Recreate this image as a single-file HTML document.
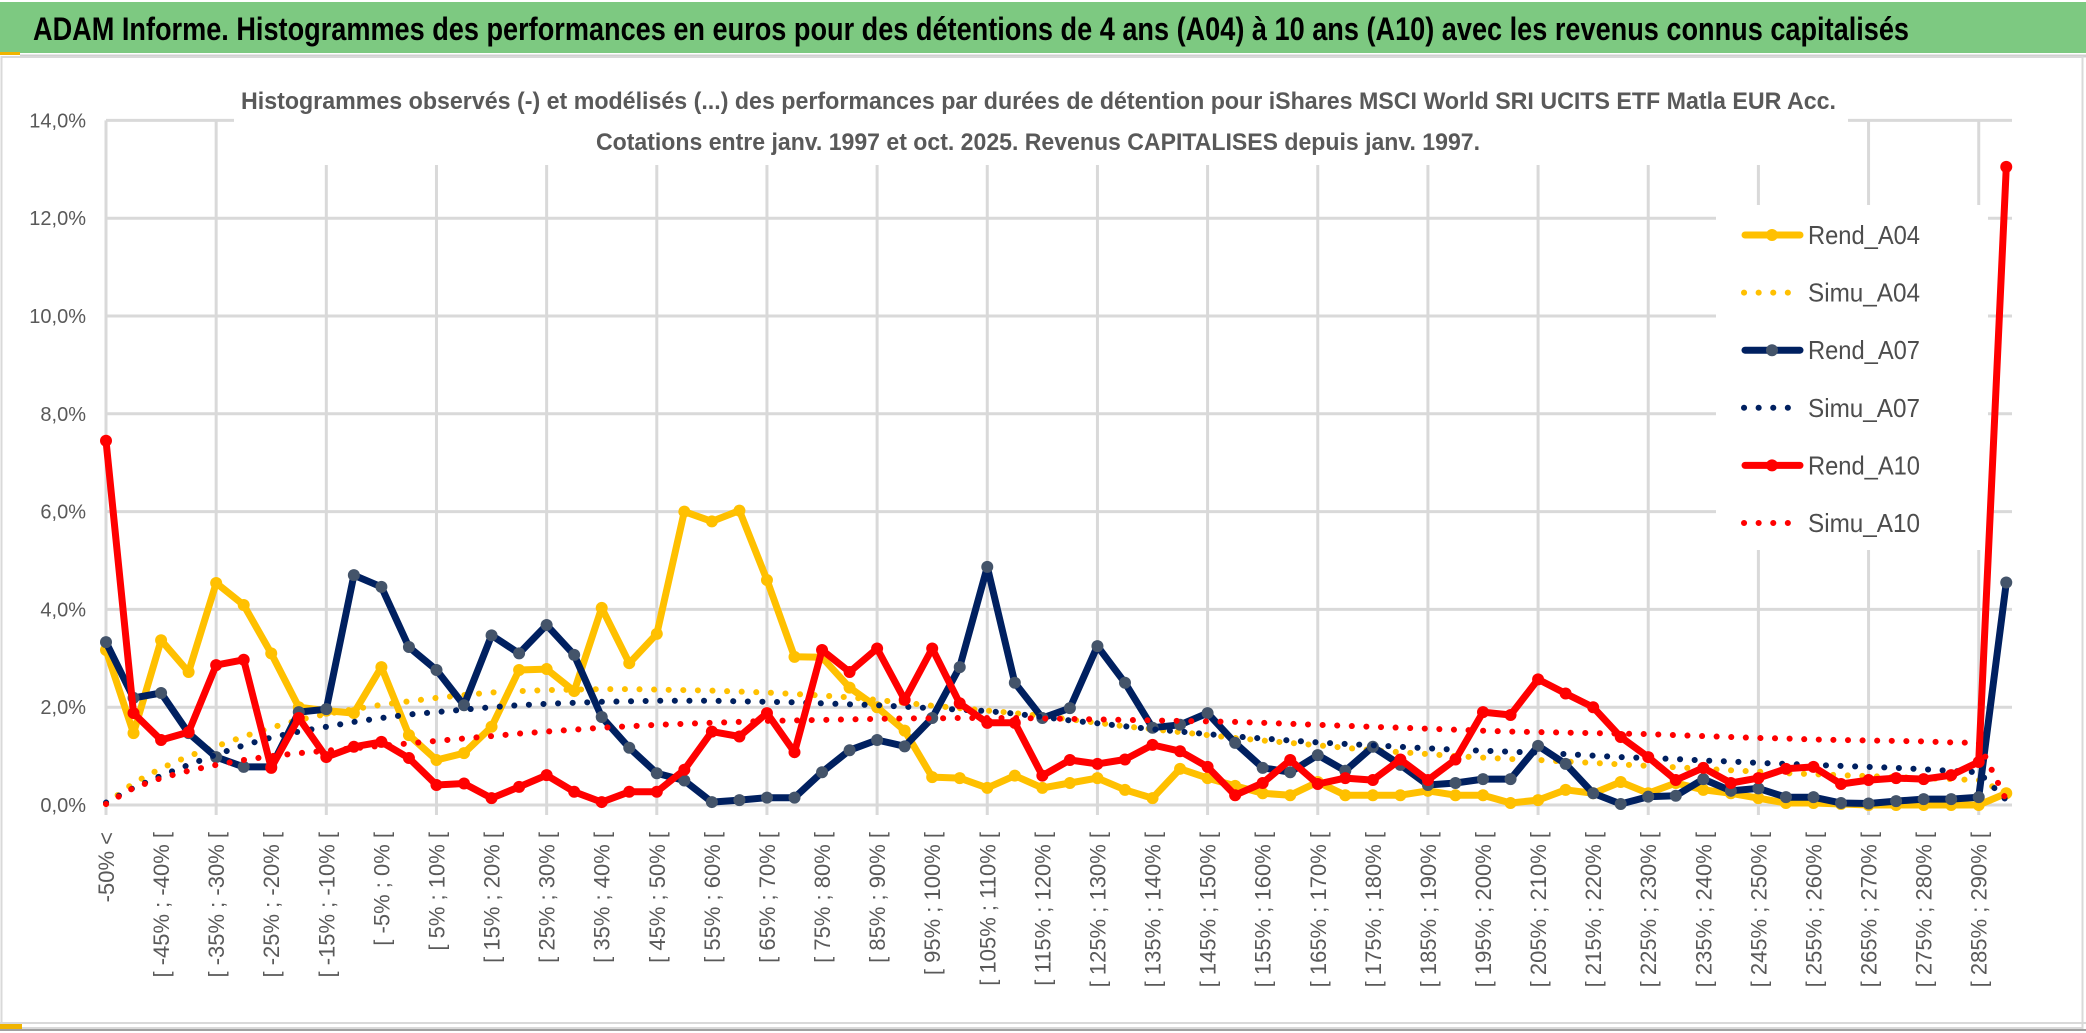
<!DOCTYPE html>
<html><head><meta charset="utf-8"><style>
html,body{margin:0;padding:0;background:#fff;}
svg{display:block;}
text{font-family:"Liberation Sans",sans-serif;}
</style></head><body>
<svg id="chart" width="2086" height="1033" viewBox="0 0 2086 1033" xmlns="http://www.w3.org/2000/svg">
  <rect x="0" y="0" width="2086" height="1033" fill="#fff"/>
  <rect x="0" y="2" width="2086" height="51" fill="#7dc981"/>
  <rect x="0" y="52" width="20" height="3" fill="#f0b400"/>
  <line x1="20" y1="56" x2="2086" y2="56" stroke="#d0d0d0" stroke-width="3"/>
  <rect x="1.5" y="57" width="2081" height="971" fill="none" stroke="#d9d9d9" stroke-width="2"/>
  <line x1="0" y1="1023" x2="2086" y2="1023" stroke="#d9d9d9" stroke-width="2"/>
  <line x1="0" y1="1030" x2="2086" y2="1030" stroke="#a0a0a0" stroke-width="2"/>
  <rect x="0" y="1024" width="22" height="5" fill="#f0b400"/>
  <text x="33" y="40" font-size="32" font-weight="bold" fill="#000" textLength="1876" lengthAdjust="spacingAndGlyphs">ADAM Informe. Histogrammes des performances en euros pour des détentions de 4 ans (A04) à 10 ans (A10) avec les revenus connus capitalisés</text>
  <g id="grid"></g>
  <rect x="234" y="80" width="1614" height="85" fill="#fff"/>
  <text x="241" y="109" font-size="24" font-weight="bold" fill="#595959" textLength="1595" lengthAdjust="spacingAndGlyphs">Histogrammes observés (-) et modélisés (...) des performances par durées de détention pour iShares MSCI World SRI UCITS ETF Matla EUR Acc.</text>
  <text x="596" y="150" font-size="24" font-weight="bold" fill="#595959" textLength="884" lengthAdjust="spacingAndGlyphs">Cotations entre janv. 1997 et oct. 2025. Revenus CAPITALISES depuis janv. 1997.</text>
  <g id="yaxis"></g>
  <g id="xaxis"></g>
  <rect x="1716" y="205" width="272" height="345" fill="#fff"/>
  <g id="series"></g>
  <g id="legend"></g>
</svg>
<script>
const NS = "http://www.w3.org/2000/svg";
const yTicks = [0, 2, 4, 6, 8, 10, 12, 14];
const rendA04 = [3.17,1.47,3.37,2.72,4.54,4.09,3.1,2.0,1.93,1.88,2.82,1.43,0.92,1.06,1.6,2.76,2.78,2.33,4.03,2.9,3.5,6.0,5.8,6.02,4.6,3.03,3.02,2.4,2.0,1.52,0.57,0.55,0.35,0.6,0.35,0.45,0.55,0.31,0.14,0.74,0.55,0.39,0.24,0.2,0.47,0.2,0.2,0.2,0.29,0.2,0.2,0.04,0.1,0.31,0.24,0.47,0.24,0.45,0.31,0.24,0.14,0.04,0.04,0.02,0.0,0.0,0.0,0.0,0.0,0.24];
const simuA04 = [0.02,0.45,0.75,1.0,1.2,1.4,1.58,1.74,1.86,1.96,2.05,2.12,2.19,2.25,2.3,2.33,2.35,2.36,2.37,2.37,2.36,2.35,2.34,2.32,2.3,2.27,2.24,2.2,2.15,2.09,2.03,1.98,1.93,1.88,1.82,1.75,1.68,1.61,1.55,1.49,1.43,1.37,1.32,1.27,1.22,1.17,1.12,1.08,1.04,1.0,0.97,0.94,0.92,0.89,0.86,0.83,0.8,0.77,0.74,0.71,0.68,0.65,0.63,0.61,0.59,0.57,0.55,0.53,0.51,0.25];
const rendA07 = [3.33,2.19,2.29,1.47,0.98,0.78,0.78,1.9,1.96,4.7,4.46,3.23,2.76,2.04,3.47,3.1,3.68,3.07,1.8,1.17,0.65,0.5,0.06,0.1,0.15,0.15,0.67,1.12,1.33,1.2,1.78,2.82,4.87,2.5,1.78,1.98,3.25,2.5,1.58,1.64,1.88,1.27,0.76,0.67,1.02,0.7,1.19,0.82,0.41,0.45,0.53,0.53,1.21,0.84,0.24,0.02,0.17,0.19,0.53,0.29,0.34,0.16,0.16,0.04,0.03,0.08,0.12,0.12,0.16,4.55];
const simuA07 = [0.05,0.35,0.6,0.82,1.03,1.22,1.38,1.5,1.6,1.7,1.78,1.85,1.9,1.95,2.0,2.04,2.07,2.09,2.11,2.12,2.13,2.13,2.13,2.12,2.11,2.1,2.08,2.06,2.04,2.01,1.98,1.95,1.92,1.87,1.8,1.73,1.67,1.61,1.55,1.5,1.45,1.4,1.36,1.32,1.28,1.25,1.22,1.19,1.16,1.13,1.11,1.09,1.07,1.04,1.01,0.98,0.96,0.94,0.91,0.89,0.86,0.84,0.82,0.8,0.78,0.76,0.73,0.7,0.67,0.1];
const rendA10 = [7.45,1.88,1.33,1.49,2.86,2.97,0.76,1.78,0.98,1.19,1.29,0.96,0.41,0.44,0.14,0.37,0.61,0.27,0.06,0.27,0.27,0.72,1.5,1.4,1.88,1.08,3.17,2.72,3.2,2.15,3.2,2.08,1.68,1.68,0.6,0.92,0.84,0.93,1.23,1.1,0.78,0.2,0.45,0.92,0.43,0.55,0.51,0.93,0.51,0.93,1.9,1.84,2.57,2.28,2.0,1.39,0.98,0.51,0.76,0.45,0.55,0.74,0.78,0.43,0.51,0.55,0.53,0.61,0.88,13.05];
const simuA10 = [0.02,0.35,0.55,0.7,0.82,0.92,1.0,1.06,1.11,1.16,1.21,1.26,1.31,1.36,1.41,1.46,1.5,1.54,1.58,1.61,1.64,1.66,1.68,1.7,1.72,1.73,1.74,1.75,1.76,1.77,1.77,1.78,1.78,1.78,1.77,1.76,1.75,1.74,1.73,1.72,1.71,1.7,1.68,1.66,1.64,1.62,1.6,1.58,1.56,1.54,1.52,1.5,1.49,1.48,1.47,1.46,1.45,1.43,1.41,1.39,1.37,1.36,1.34,1.33,1.32,1.31,1.3,1.28,1.27,0.1];
const categories = ["-50% <"];
for (let k = 1; k < 70; k++) categories.push("[ " + (-55 + 5 * k) + "% ; " + (-50 + 5 * k) + "% [");

const X0 = 106, DX = 27.54, Y0 = 805, PPU = 48.9, XR = 2012;
function xs(i) { return X0 + DX * i; }
function ys(v) { return Y0 - PPU * v; }
function mk(tag, attrs, parent) {
  const e = document.createElementNS(NS, tag);
  for (const k in attrs) e.setAttribute(k, attrs[k]);
  parent.appendChild(e);
  return e;
}
const grid = document.getElementById('grid');
const yaxis = document.getElementById('yaxis');
const xaxis = document.getElementById('xaxis');
const seriesG = document.getElementById('series');
const legend = document.getElementById('legend');

yTicks.forEach(function (t) {
  const l = mk('line', {x1: X0, x2: XR, y1: ys(t), y2: ys(t), stroke: '#d9d9d9', 'stroke-width': 3}, grid);
  
  
  const tx = mk('text', {x: 86, y: ys(t) + 7, 'text-anchor': 'end', 'font-size': 20, fill: '#595959'}, yaxis);
  tx.textContent = t.toFixed(1).replace('.', ',') + '%';
  
  
});
for (let i = 0; i < categories.length; i += 4) {
  const l = mk('line', {x1: xs(i), x2: xs(i), y1: ys(14), y2: Y0 + 10, stroke: '#d9d9d9', 'stroke-width': 3}, grid);
  
  
}
categories.forEach(function (c, i) {
  if (i % 2 !== 0) return;
  const tx = mk('text', {x: 0, y: 0, 'text-anchor': 'end', 'font-size': 22, fill: '#595959',
    transform: 'translate(' + (xs(i) + 8) + ',832) rotate(-90)'}, xaxis);
  tx.textContent = c;
  
  
});

const seriesList = [
  {name: 'rend-a04', label: 'Rend_A04', data: rendA04, color: '#ffc000', marker: '#ffc000', dotted: false},
  {name: 'simu-a04', label: 'Simu_A04', data: simuA04, color: '#ffc000', dotted: true},
  {name: 'rend-a07', label: 'Rend_A07', data: rendA07, color: '#002060', marker: '#44546a', dotted: false},
  {name: 'simu-a07', label: 'Simu_A07', data: simuA07, color: '#002060', dotted: true},
  {name: 'rend-a10', label: 'Rend_A10', data: rendA10, color: '#ff0000', marker: '#ff0000', dotted: false},
  {name: 'simu-a10', label: 'Simu_A10', data: simuA10, color: '#ff0000', dotted: true}
];
seriesList.forEach(function (s, si) {
  const pts = s.data.map(function (v, i) { return xs(i).toFixed(1) + ',' + ys(v).toFixed(1); }).join(' ');
  const attrs = {points: pts, fill: 'none', stroke: s.color, 'stroke-linejoin': 'round'};
  if (s.dotted) { attrs['stroke-width'] = 6; attrs['stroke-dasharray'] = '0.1 14.5'; attrs['stroke-linecap'] = 'round'; }
  else { attrs['stroke-width'] = 7; attrs['stroke-linecap'] = 'round'; }
  const pl = mk('polyline', attrs, seriesG);
  
  
  if (!s.dotted) {
    s.data.forEach(function (v, i) {
      const c = mk('circle', {cx: xs(i), cy: ys(v), r: 6, fill: s.marker}, seriesG);
      
      
    });
  }
  const ly = 235 + si * 57.6;
  const la = {x1: 1745, x2: 1800, y1: ly, y2: ly, stroke: s.color};
  if (s.dotted) { la['stroke-width'] = 6; la['stroke-dasharray'] = '0.1 14.5'; la['stroke-linecap'] = 'round'; la.x1 = 1744; la.x2 = 1790; }
  else { la['stroke-width'] = 7; la['stroke-linecap'] = 'round'; }
  const ll = mk('line', la, legend);
  
  
  if (!s.dotted) {
    const lm = mk('circle', {cx: 1772, cy: ly, r: 6, fill: s.marker}, legend);
    
    
  }
  const lt = mk('text', {x: 1808, y: ly + 9, 'font-size': 26, fill: '#4d4d4d', textLength: 112, lengthAdjust: 'spacingAndGlyphs'}, legend);
  lt.textContent = s.label;
  
  
});
</script>
</body></html>
